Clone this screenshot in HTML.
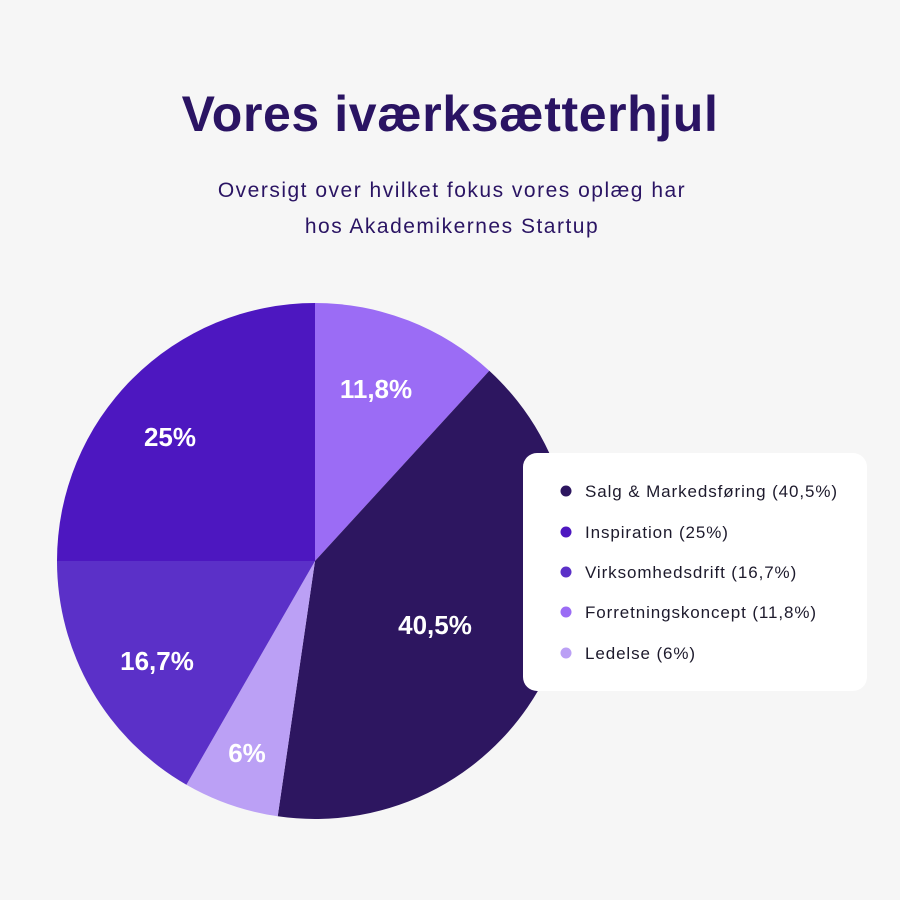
<!DOCTYPE html>
<html><head><meta charset="utf-8"><style>
body{margin:0;background:#f6f6f6;}
svg{display:block;}
</style></head><body>
<svg width="900" height="900" viewBox="0 0 900 900" xmlns="http://www.w3.org/2000/svg">
<rect width="900" height="900" fill="#f6f6f6"/>
<text x="450" y="131" text-anchor="middle" font-family="Liberation Sans, sans-serif" font-weight="bold" font-size="50" fill="#2a1463" letter-spacing="0.6">Vores iværksætterhjul</text>
<text x="452" y="197" text-anchor="middle" font-family="Liberation Sans, sans-serif" font-size="21" fill="#2a1463" letter-spacing="1.5">Oversigt over hvilket fokus vores oplæg har</text>
<text x="452" y="233" text-anchor="middle" font-family="Liberation Sans, sans-serif" font-size="21" fill="#2a1463" letter-spacing="1.5">hos Akademikernes Startup</text>
<g>
<path d="M315,561 L315,303 A258,258 0 0 1 489.3,370.8 Z" fill="#9b6cf5"/>
<path d="M315,561 L489.3,370.8 A258,258 0 0 1 277.7,816.3 Z" fill="#2d1660"/>
<path d="M315,561 L277.7,816.3 A258,258 0 0 1 186.4,784.7 Z" fill="#bba0f5"/>
<path d="M315,561 L186.4,784.7 A258,258 0 0 1 57,561 Z" fill="#5b30c8"/>
<path d="M315,561 L57,561 A258,258 0 0 1 315,303 Z" fill="#4d17c0"/>
</g>
<g font-family="Liberation Sans, sans-serif" font-weight="bold" font-size="26" fill="#fff" text-anchor="middle">
<text x="376" y="398">11,8%</text>
<text x="170" y="446">25%</text>
<text x="435" y="634">40,5%</text>
<text x="157" y="670">16,7%</text>
<text x="247" y="762">6%</text>
</g>
<rect x="523" y="453" width="344" height="238" rx="14" fill="#ffffff"/>
<g font-family="Liberation Sans, sans-serif" font-size="17" fill="#1d1a2c" letter-spacing="0.9">
<circle cx="566" cy="491" r="5.5" fill="#2d1660"/><text x="585" y="497">Salg &amp; Markedsføring (40,5%)</text>
<circle cx="566" cy="532" r="5.5" fill="#4d17c0"/><text x="585" y="538">Inspiration (25%)</text>
<circle cx="566" cy="572" r="5.5" fill="#5b30c8"/><text x="585" y="578">Virksomhedsdrift (16,7%)</text>
<circle cx="566" cy="612" r="5.5" fill="#9b6cf5"/><text x="585" y="618">Forretningskoncept (11,8%)</text>
<circle cx="566" cy="653" r="5.5" fill="#bba0f5"/><text x="585" y="659">Ledelse (6%)</text>
</g>
</svg>
</body></html>
